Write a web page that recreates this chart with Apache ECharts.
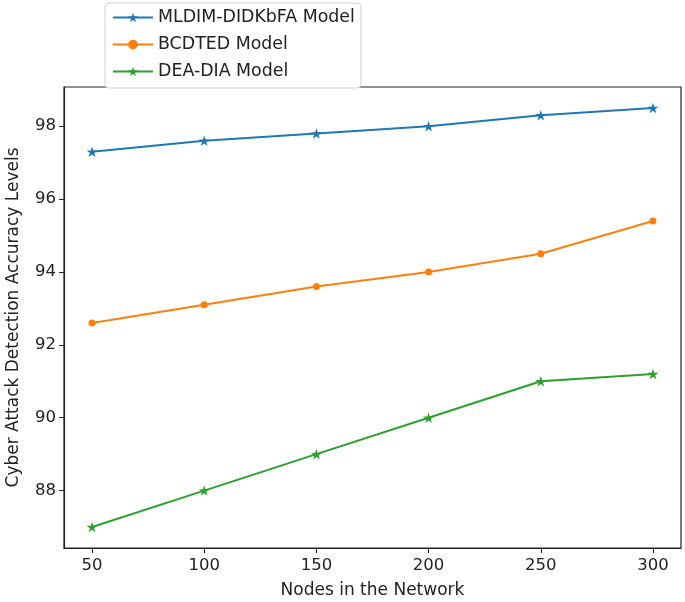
<!DOCTYPE html>
<html><head><meta charset="utf-8">
<script src="https://cdn.jsdelivr.net/npm/echarts@6/dist/echarts.min.js"></script>
<style>html,body{margin:0;padding:0;background:#fff}#c{width:685px;height:602px}</style>
</head><body><div id="c"></div>
<script>
const nodes = [50, 100, 150, 200, 250, 300];
const mldim = [97.3, 97.6, 97.8, 98.0, 98.3, 98.5];
const bcdted = [92.6, 93.1, 93.6, 94.0, 94.5, 95.4];
const deadia = [87.0, 88.0, 89.0, 90.0, 91.0, 91.2];
const xTicks = [50, 100, 150, 200, 250, 300];
const yTicks = [88, 90, 92, 94, 96, 98];
const seriesNames = ['MLDIM-DIDKbFA Model', 'BCDTED Model', 'DEA-DIA Model'];
const colors = ['#1f77b4', '#ff7f0e', '#2ca02c'];
const star = 'path://M50,0 L61.2,34.5 L97.6,34.5 L68.2,55.9 L79.4,90.5 L50,69.1 L20.6,90.5 L31.8,55.9 L2.4,34.5 L38.8,34.5 Z';
const font = 'DejaVu Sans';
const pair = a => nodes.map((n, i) => [n, a[i]]);
const mk = (name, data, color, sym, size) => ({
  name, type: 'line', data: pair(data), symbol: sym, symbolSize: size, symbolKeepAspect: true,
  lineStyle: { color, width: 2 }, itemStyle: { color }, z: 3
});
const chart = echarts.init(document.getElementById('c'), null, { renderer: 'canvas' });
chart.setOption({
  animation: false,
  textStyle: { fontFamily: font },
  grid: { left: 64, right: 4, top: 87, bottom: 54, outerBoundsMode: 'none', containLabel: false, show: true, borderColor: '#222', borderWidth: 1.2, backgroundColor: 'transparent' },
  legend: {
    orient: 'vertical', left: 105, top: 3, itemGap: 10, itemWidth: 40, itemHeight: 12,
    padding: [6, 6, 8, 7],
    backgroundColor: '#fff', borderColor: '#d0d0d0', borderWidth: 1, borderRadius: 4,
    textStyle: { fontFamily: font, fontSize: 17.4, color: '#222' },
    data: seriesNames, z: 10
  },
  xAxis: {
    type: 'value', min: 37.5, max: 312.5,
    name: 'Nodes in the Network', nameLocation: 'middle', nameGap: 34,
    nameTextStyle: { fontFamily: font, fontSize: 17, color: '#222' },
    axisLine: { show: true, lineStyle: { color: '#222', width: 1.2 } },
    axisTick: { show: true, length: 5, customValues: xTicks, lineStyle: { color: '#222' } },
    axisLabel: { customValues: xTicks, fontFamily: font, fontSize: 16.5, color: '#222', margin: 9 },
    splitLine: { show: false }
  },
  yAxis: {
    type: 'value', min: 86.425, max: 99.075,
    name: 'Cyber Attack Detection Accuracy Levels', nameLocation: 'middle', nameGap: 42,
    nameTextStyle: { fontFamily: font, fontSize: 17, color: '#222' },
    axisLine: { show: true, lineStyle: { color: '#222', width: 1.2 } },
    axisTick: { show: true, length: 5, customValues: yTicks, lineStyle: { color: '#222' } },
    axisLabel: { customValues: yTicks, fontFamily: font, fontSize: 16.5, color: '#222', margin: 8 },
    splitLine: { show: false }
  },
  series: [
    mk(seriesNames[0], mldim, colors[0], star, 11),
    mk(seriesNames[1], bcdted, colors[1], 'circle', 7),
    mk(seriesNames[2], deadia, colors[2], star, 11)
  ]
});
</script></body></html>
